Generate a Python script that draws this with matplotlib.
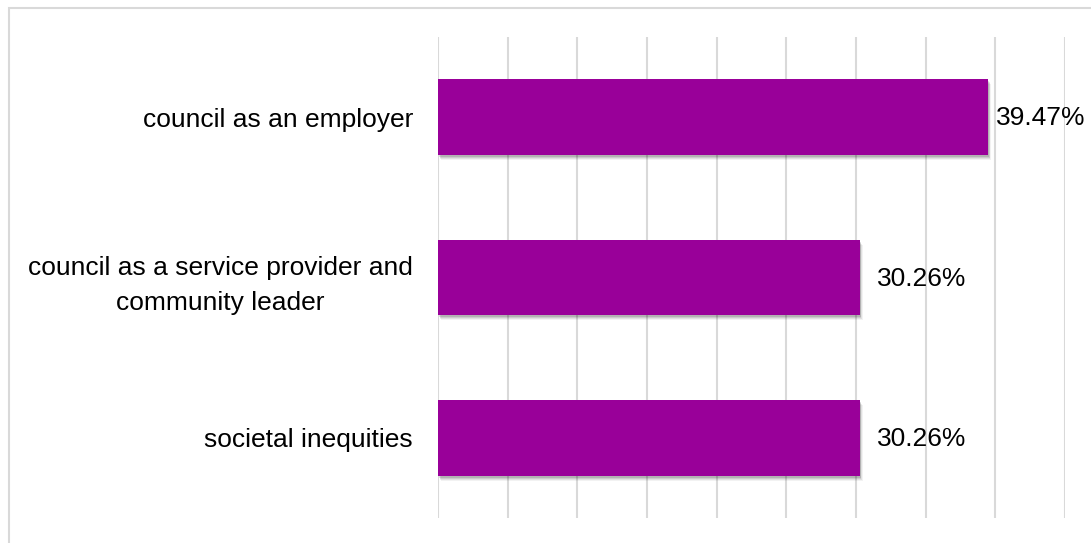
import matplotlib.pyplot as plt
import matplotlib.patches as patches
import numpy as np

plt.rcParams['font.family'] = ['Liberation Sans', 'DejaVu Sans']

categories = ['council as an employer',
              'council as a service provider and\ncommunity leader',
              'societal inequities']
values = [39.47, 30.26, 30.26]
value_labels = ['39.47%', '30.26%', '30.26%']

bar_color = '#990099'
grid_color = '#d9d9d9'

fig = plt.figure(figsize=(10.91, 5.43), dpi=100)
W, H = 1091, 543
ax = fig.add_axes([438 / W, 1 - 518 / H, (1065 - 438) / W, (518 - 37) / H])
px_x = 45 / (1065 - 438)      # data units per pixel, x
px_y = 3 / (518 - 37)         # data units per pixel, y

y = np.arange(len(categories))

# soft drop shadow under the bars, a few layers to fake the blur
for k, a in [(5, 0.05), (4, 0.07), (3, 0.09), (2, 0.12)]:
    ax.barh(y + k * px_y, values, left=k * 0.6 * px_x, height=0.47,
            color='black', alpha=a, zorder=2, linewidth=0)
ax.barh(y, values, height=0.47, color=bar_color, zorder=3, linewidth=0)

# value labels, pushed back inside the chart when they would spill over
x_max = (1086 - 90 - 438) * px_x
for yi, v, lab in zip(y, values, value_labels):
    ax.text(min(v + 17 * px_x, x_max), yi + 1 * px_y, lab, va='center',
            ha='left', fontsize=19, color='black', zorder=4, clip_on=False)

ax.set_xlim(0, 45)
ax.set_ylim(len(categories) - 0.5, -0.5)
ax.set_xticks(np.arange(0, 46, 5))
ax.xaxis.grid(True, color=grid_color, linewidth=1.5, zorder=0)
ax.set_axisbelow(True)
ax.tick_params(axis='x', length=0, labelbottom=False)
ax.tick_params(axis='y', length=0, pad=18)
ax.set_yticks(y)
ax.set_yticklabels(categories, fontsize=19, multialignment='center',
                   linespacing=1.6)
for s in ax.spines.values():
    s.set_visible(False)

# outer chart border
fig.patches.append(patches.Rectangle((8.5 / W, -0.1), 1.2, 1 - 7.5 / H + 0.1,
                                     transform=fig.transFigure, fill=False,
                                     edgecolor=grid_color, linewidth=1.5))

fig.savefig('out.png', dpi=100)
